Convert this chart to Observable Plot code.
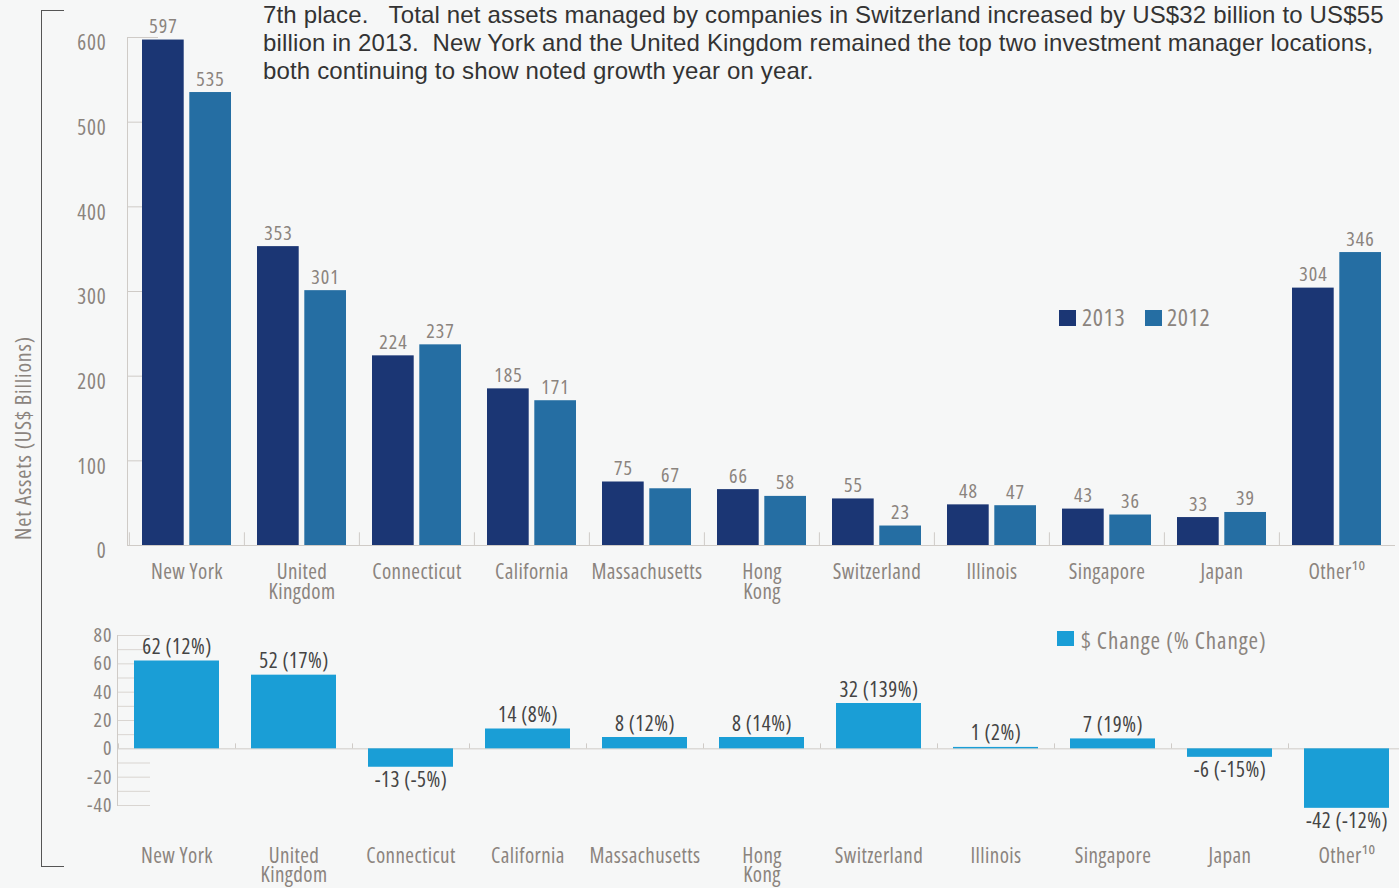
<!DOCTYPE html>
<html>
<head>
<meta charset="utf-8">
<script src="https://cdn.jsdelivr.net/npm/d3@7"></script>
<script src="https://cdn.jsdelivr.net/npm/@observablehq/plot@0.6"></script>
<style>
  html, body { margin: 0; padding: 0; background: #f6f7f7; }
  #wrap { position: relative; width: 1399px; height: 888px; overflow: hidden;
    font-family: "Open Sans", "DejaVu Sans Condensed", sans-serif; font-stretch: 75%; }
  #wrap svg, #wrap svg text { font-stretch: 75%; }
  .abs { position: absolute; }
  #para { left: 263px; top: 1px; font-family: "Liberation Sans", Arial, sans-serif; font-stretch: 100%; font-size: 24px;
    letter-spacing: 0.15px; line-height: 28px; color: #333; white-space: nowrap; }
  #bracket { left: 41px; top: 10px; width: 22px; height: 855px; border-left: 1.5px solid #555;
    border-top: 1.5px solid #555; border-bottom: 1.5px solid #555; }
  #ytitle { left: 22px; top: 438px; transform: translate(-50%, -50%) rotate(-90deg); white-space: nowrap;
    font-size: 22px; letter-spacing: 0.8px; color: #8b847e; line-height: 22px; }
  .sw { position: absolute; }
  .lg { position: absolute; white-space: nowrap; color: #8b847e; }
  #topChart { left: 0; top: 0; }
  #botChart { left: 0; top: 600px; }
  .ls04 text { letter-spacing: 0.4px; }
</style>
</head>
<body>
<div id="wrap">
  <div id="para" class="abs">7th place.&nbsp;&nbsp; Total net assets managed by companies in Switzerland increased by US$32 billion to US$55<br>billion in 2013.&nbsp; New York and the United Kingdom remained the top two investment manager locations,<br>both continuing to show noted growth year on year.</div>
  <div id="bracket" class="abs"></div>
  <div id="ytitle" class="abs">Net Assets (US$ Billions)</div>
  <div id="topChart" class="abs"></div>
  <div id="botChart" class="abs"></div>
  <div class="sw" style="left:1059px;top:310px;width:17px;height:16px;background:#1b3674"></div>
  <div class="lg" style="left:1082px;top:305px;font-size:24px;line-height:24px;letter-spacing:0.6px">2013</div>
  <div class="sw" style="left:1145px;top:310px;width:17px;height:16px;background:#256ea3"></div>
  <div class="lg" style="left:1167px;top:305px;font-size:24px;line-height:24px;letter-spacing:0.6px">2012</div>
  <div class="sw" style="left:1057px;top:631px;width:17px;height:15px;background:#1a9ed6"></div>
  <div class="lg" style="left:1081px;top:629px;font-size:23px;line-height:23px;letter-spacing:0.9px">$ Change (% Change)</div>
</div>
<script>
const categories = ["New York", "United\nKingdom", "Connecticut", "California", "Massachusetts", "Hong\nKong",
  "Switzerland", "Illinois", "Singapore", "Japan", "Other\u00b9\u2070"];
const assets2013 = [597, 353, 224, 185, 75, 66, 55, 48, 43, 33, 304];
const assets2012 = [535, 301, 237, 171, 67, 58, 23, 47, 36, 39, 346];
const changeDollar = [62, 52, -13, 14, 8, 8, 32, 1, 7, -6, -42];
const changePct = [12, 17, -5, 8, 12, 14, 139, 2, 19, -15, -12];
const topTicks = [0, 100, 200, 300, 400, 500, 600];
const bottomTicks = [-40, -20, 0, 20, 40, 60, 80];
const bottomGrid = [-40, -30, -20, -10, 10, 20, 30, 40, 50, 60, 70, 80];

const W = 1399;
const FONT = '"Open Sans", "DejaVu Sans Condensed", sans-serif';
const GREY = "#8b847e";
const LINE = "#cfcbc7";

const topRows = categories.map((c, i) => ({category: c, v2013: assets2013[i], v2012: assets2012[i]}));
const botRows = categories.map((c, i) => ({category: c, change: changeDollar[i], pct: changePct[i]}));

const topChart = Plot.plot({
  width: W, height: 610,
  marginLeft: 127, marginRight: 4, marginTop: 37, marginBottom: 65,
  style: {background: "transparent", fontFamily: FONT, overflow: "visible"},
  x: {domain: categories, padding: 0, label: null},
  y: {domain: [0, 600], label: null},
  marks: [
    Plot.ruleY(topTicks.filter(d => d > 0), {stroke: LINE, insetRight: W - 127 - 4 - 31}),
    Plot.barY(topRows, {x: "category", y: "v2013", fill: "#1b3674", insetLeft: 13, insetRight: 60.3}),
    Plot.barY(topRows, {x: "category", y: "v2012", fill: "#256ea3", insetLeft: 60.3, insetRight: 13}),
    Plot.ruleY([0], {stroke: LINE}),
    Plot.ruleX(categories, {x: d => d, dx: -57.6, y1: 0, y2: 15, stroke: LINE}),
    Plot.frame({anchor: "left", stroke: LINE}),
    Plot.axisY({ticks: topTicks, tickSize: 0, tickPadding: 21, dy: 6, fontSize: 21, color: GREY, tickFormat: d => String(d), label: null, className: "ls08"}),
    Plot.axisX({tickSize: 0, tickPadding: 20, fontSize: 21, color: GREY, lineHeight: 0.93, label: null, className: "ls04"}),
    Plot.text(topRows, {x: "category", y: "v2013", text: d => String(d.v2013), dx: -23.6, dy: -7, lineAnchor: "bottom", fontSize: 20, fill: GREY, className: "ls10"}),
    Plot.text(topRows, {x: "category", y: "v2012", text: d => String(d.v2012), dx: 23.6, dy: -7, lineAnchor: "bottom", fontSize: 20, fill: GREY, className: "ls10"})
  ]
});
document.getElementById("topChart").append(topChart);

const botChart = Plot.plot({
  width: W, height: 288,
  marginLeft: 117, marginRight: 0, marginTop: 35, marginBottom: 83,
  style: {background: "transparent", fontFamily: FONT, overflow: "visible"},
  x: {domain: categories, padding: 0, range: [118, 1405.5], label: null},
  y: {domain: [-40, 80], label: null},
  marks: [
    Plot.ruleY(bottomGrid, {stroke: "#d9d5d1", insetRight: W - 117 - 33}),
    Plot.ruleY([0], {stroke: LINE}),
    Plot.ruleX(categories, {x: d => d, dx: -58.5, y1: 0, y2: 3.5, stroke: LINE}),
    Plot.barY(botRows, {x: "category", y: "change", fill: "#1a9ed6", insetLeft: 16, insetRight: 16}),
    Plot.frame({anchor: "left", stroke: LINE}),
    Plot.axisY({ticks: bottomTicks, tickSize: 0, tickPadding: 5, fontSize: 20, color: GREY, tickFormat: d => String(d), label: null, className: "ls10"}),
    Plot.axisX({tickSize: 0, tickPadding: 43.5, fontSize: 21, color: GREY, lineHeight: 0.93, label: null, className: "ls04"}),
    Plot.text(botRows.filter(d => d.change >= 0), {x: "category", y: "change", text: d => `${d.change} (${d.pct}%)`, dy: -7, lineAnchor: "bottom", fontSize: 21, fill: "#444", className: "ls05"}),
    Plot.text(botRows.filter(d => d.change < 0), {x: "category", y: "change", text: d => `${d.change} (${d.pct}%)`, dy: 5, lineAnchor: "top", fontSize: 21, fill: "#444", className: "ls05"})
  ]
});
document.getElementById("botChart").append(botChart);

// letter spacing per mark class (Plot prefixes class names on the mark's <g>)
const spacing = {ls04: "0.4px", ls05: "0.5px", ls08: "0.8px", ls10: "1px"};
for (const [cls, v] of Object.entries(spacing)) {
  document.querySelectorAll(`#wrap g.${cls} text, #wrap g[aria-label].${cls} text`).forEach(t => t.style.letterSpacing = v);
}
</script>
</body>
</html>
